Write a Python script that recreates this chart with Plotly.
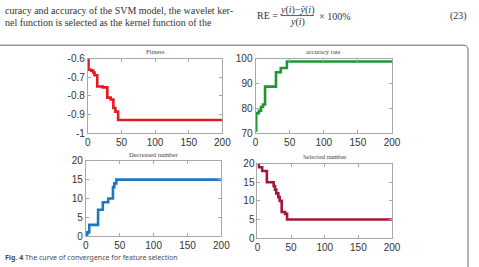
import plotly.graph_objects as go

W, H = 479, 267

# ---- data ----
fit_iter = [0, 1, 5, 8, 10, 14, 22, 29, 34, 38, 41, 45, 200]
fit_val = [-0.60, -0.66, -0.665, -0.675, -0.69, -0.75, -0.755, -0.81, -0.82, -0.866, -0.885, -0.93, -0.93]

acc_iter = [0, 1, 5, 8, 11, 14, 30, 37, 46, 200]
acc_val = [71, 78, 79, 80.5, 81.5, 88.7, 94.5, 96.2, 98.8, 98.8]

dec_iter = [0, 2, 5, 18, 25, 33, 40, 42, 45, 200]
dec_val = [0, 1, 3, 7, 9, 10, 13, 14, 15, 15]

sel_iter = [0, 2, 7, 14, 24, 26, 28, 31, 33, 36, 38, 41, 44, 200]
sel_val = [20, 19, 18, 15, 14, 13, 12, 11, 10, 7, 7, 6.5, 5, 5]

titles = ["Fitness", "accuracy rate", "Decreased number", "Selected number"]
x_ticks = [0, 50, 100, 150, 200]
fit_ticks = [-1, -0.9, -0.8, -0.7, -0.6]
fit_ticktext = ["-1", "-0.9", "-0.8", "-0.7", "-0.6"]
acc_ticks = [70, 80, 90, 100]
num_ticks = [0, 5, 10, 15, 20]

colors = ["#e41a1c", "#1f9630", "#1f77c0", "#a0193a"]

# panel pixel boxes: (left, right, top, bottom)
boxes = [(87, 225, 55, 133), (259, 399, 55, 133), (85, 224, 162, 241), (261, 399, 165, 243)]

fig = go.Figure()
series = [(fit_iter, fit_val), (acc_iter, acc_val), (dec_iter, dec_val), (sel_iter, sel_val)]
yranges = [[-1, -0.6], [70, 100], [0, 20], [0, 20]]
yticks = [(fit_ticks, fit_ticktext), (acc_ticks, [str(v) for v in acc_ticks]),
          (num_ticks, [str(v) for v in num_ticks]), (num_ticks, [str(v) for v in num_ticks])]

tickfont = dict(family="Liberation Sans, Arial", size=10, color="#333333")
for i, ((xs, ys), box) in enumerate(zip(series, boxes)):
    n = "" if i == 0 else str(i + 1)
    fig.add_trace(go.Scatter(x=xs, y=ys, mode="lines", line=dict(color=colors[i], width=2.6, shape="hv"),
                             xaxis="x" + n, yaxis="y" + n, showlegend=False))
    l, r, t, b = box
    axcommon = dict(showline=True, linecolor="#a8a8a8", linewidth=1, mirror="ticks", ticks="inside",
                    ticklen=3, tickcolor="#a8a8a8", showgrid=False, zeroline=False, tickfont=tickfont)
    fig.update_layout({
        "xaxis" + n: dict(domain=[l / W, r / W], anchor="y" + n, range=[0, 200], tickvals=x_ticks, **axcommon),
        "yaxis" + n: dict(domain=[1 - b / H, 1 - t / H], anchor="x" + n, range=yranges[i],
                          tickvals=yticks[i][0], ticktext=yticks[i][1], **axcommon),
    })
    fig.add_annotation(x=(l + r) / 2 / W, y=1 - (t - 7) / H, xref="paper", yref="paper", text=titles[i],
                       showarrow=False, font=dict(family="Liberation Serif, Times New Roman", size=6.5, color="#444444"),
                       xanchor="center", yanchor="middle")

serif = dict(family="Liberation Serif, Times New Roman", size=10, color="#333333")
fig.add_annotation(x=0, y=1 - 5 / H, xref="paper", yref="paper", text="curacy and accuracy of the SVM model, the wavelet ker-",
                   showarrow=False, xanchor="left", yanchor="middle", font=serif)
fig.add_annotation(x=0, y=1 - 17 / H, xref="paper", yref="paper", text="nel function is selected as the kernel function of the",
                   showarrow=False, xanchor="left", yanchor="middle", font=serif)
fig.add_annotation(x=284 / W, y=1 - 10 / H, xref="paper", yref="paper", text="RE =",
                   showarrow=False, xanchor="right", yanchor="middle", font=serif)
fig.add_annotation(x=302 / W, y=1 - 4 / H, xref="paper", yref="paper", text="<i>y</i>(<i>i</i>)−<i>ŷ</i>(<i>i</i>)",
                   showarrow=False, xanchor="center", yanchor="middle", font=serif)
fig.add_annotation(x=302 / W, y=1 - 17 / H, xref="paper", yref="paper", text="<i>y</i>(<i>i</i>)",
                   showarrow=False, xanchor="center", yanchor="middle", font=serif)
fig.add_annotation(x=322 / W, y=1 - 10.5 / H, xref="paper", yref="paper", text="× 100%",
                   showarrow=False, xanchor="left", yanchor="middle", font=serif)
fig.add_annotation(x=478 / W, y=1 - 10.5 / H, xref="paper", yref="paper", text="(23)",
                   showarrow=False, xanchor="right", yanchor="middle", font=serif)
fig.add_shape(type="line", xref="paper", yref="paper", x0=285 / W, x1=319 / W, y0=1 - 10 / H, y1=1 - 10 / H,
              line=dict(color="#333333", width=0.8))

fig.add_annotation(x=0, y=1 - 263 / H, xref="paper", yref="paper",
                   text="<b>Fig. 4</b> The curve of convergence for feature selection",
                   showarrow=False, xanchor="left", yanchor="middle",
                   font=dict(family="Noto Sans, Liberation Sans", size=7, color="#4a4a55"))

# figure frame (rounded top-right corner)
x_r, y_t, rad = 477, 41, 5
fig.add_shape(type="path", xref="paper", yref="paper",
              path=f"M -0.02,{1 - y_t / H} L {(x_r - rad) / W},{1 - y_t / H} Q {x_r / W},{1 - y_t / H} {x_r / W},{1 - (y_t + rad) / H} L {x_r / W},-0.05",
              line=dict(color="#666666", width=1))

fig.update_layout(width=W, height=H, margin=dict(l=0, r=0, t=0, b=0), paper_bgcolor="white",
                  plot_bgcolor="white")
fig.write_html("out.html")
